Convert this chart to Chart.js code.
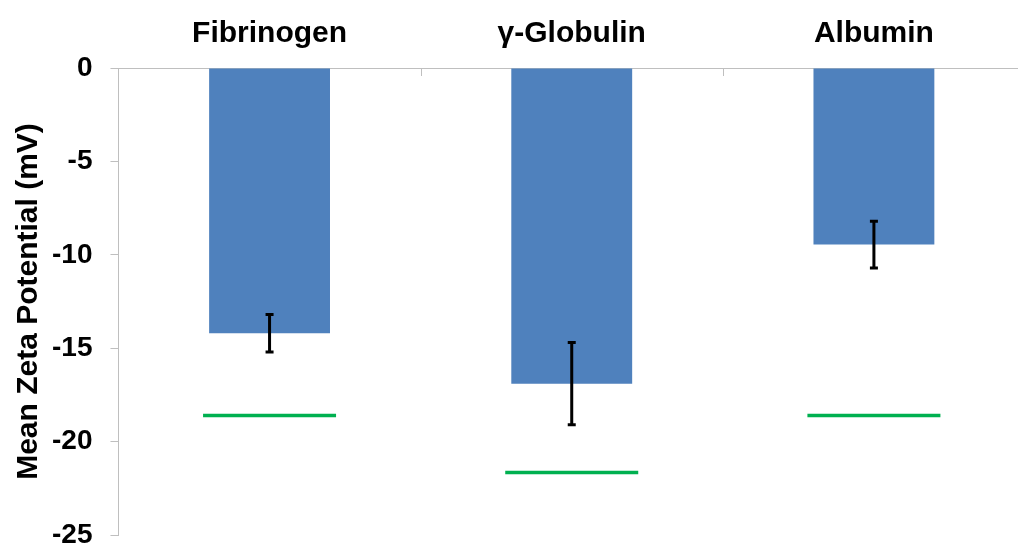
<!DOCTYPE html>
<html>
<head>
<meta charset="utf-8">
<title>Mean Zeta Potential</title>
<script src="https://cdn.jsdelivr.net/npm/chart.js@4/dist/chart.umd.min.js"></script>
<style>
  html, body { margin: 0; padding: 0; background: #ffffff; overflow: hidden; }
  #wrap { width: 1025px; height: 567px; }
</style>
</head>
<body>
<div id="wrap"><canvas id="chart" width="1025" height="567"></canvas></div>
<script>
// Protein categories and measured zeta potentials (mV)
const categories = ['Fibrinogen', 'γ-Globulin', 'Albumin'];
const meanZeta = [-14.2, -16.9, -9.45];
const zetaError = [1.0, 2.2, 1.25];
const referenceZeta = [-18.6, -21.65, -18.6];
const yTicks = [0, -5, -10, -15, -20, -25];

const FONT = '"Liberation Sans", Arial, sans-serif';
const AXIS_GREY = '#bfbfbf';

// Error bars drawn on top of each bar, from the y scale
const errorBars = {
  id: 'errorBars',
  afterDatasetsDraw(chart) {
    const meta = chart.getDatasetMeta(0);
    const y = chart.scales.y;
    const ctx = chart.ctx;
    ctx.save();
    ctx.strokeStyle = '#000000';
    ctx.lineWidth = 3;
    meta.data.forEach((bar, i) => {
      const top = y.getPixelForValue(meanZeta[i] + zetaError[i]);
      const bot = y.getPixelForValue(meanZeta[i] - zetaError[i]);
      const x = bar.x;
      ctx.beginPath();
      ctx.moveTo(x, top); ctx.lineTo(x, bot);
      ctx.moveTo(x - 4, top); ctx.lineTo(x + 4, top);
      ctx.moveTo(x - 4, bot); ctx.lineTo(x + 4, bot);
      ctx.stroke();
    });
    ctx.restore();
  }
};

// Short inward tick marks between categories on the top axis
const innerCategoryTicks = {
  id: 'innerCategoryTicks',
  afterDraw(chart) {
    const x = chart.scales.x;
    const top = chart.chartArea.top;
    const ctx = chart.ctx;
    const half = (x.getPixelForValue(1) - x.getPixelForValue(0)) / 2;
    ctx.save();
    ctx.strokeStyle = AXIS_GREY;
    ctx.lineWidth = 1;
    for (let i = 0; i < categories.length; i++) {
      const px = Math.round(x.getPixelForValue(i) + half) + 0.5;
      ctx.beginPath();
      ctx.moveTo(px, top);
      ctx.lineTo(px, top + 8);
      ctx.stroke();
    }
    ctx.restore();
  }
};

new Chart(document.getElementById('chart'), {
  type: 'bar',
  data: {
    labels: categories,
    datasets: [
      {
        type: 'bar',
        data: meanZeta,
        backgroundColor: '#4f81bd',
        borderWidth: 0,
        barPercentage: 0.4,
        categoryPercentage: 1.0,
        order: 2
      },
      {
        type: 'line',
        data: referenceZeta,
        showLine: false,
        pointStyle: 'line',
        pointRadius: 66.5,
        pointHoverRadius: 66.5,
        pointBorderWidth: 3.5,
        pointBorderColor: '#00b050',
        pointBackgroundColor: '#00b050',
        borderColor: '#00b050',
        order: 1
      }
    ]
  },
  options: {
    responsive: false,
    animation: false,
    events: [],
    layout: { autoPadding: false, padding: { top: 0, left: 11, right: 0, bottom: 0 } },
    plugins: {
      legend: { display: false },
      tooltip: { enabled: false }
    },
    scales: {
      x: {
        position: 'top',
        grid: { display: true, drawOnChartArea: false, drawTicks: false },
        border: { display: true, color: AXIS_GREY, width: 1 },
        ticks: {
          padding: 16,
          color: '#000000',
          font: { family: FONT, size: 30, weight: 'bold', lineHeight: 1.2 }
        }
      },
      y: {
        min: -25,
        max: 0,
        afterBuildTicks(scale) {
          scale.ticks = yTicks.map(v => ({ value: v }));
        },
        grid: { display: true, drawOnChartArea: false, drawTicks: true, tickLength: 8, color: AXIS_GREY },
        border: { display: true, color: AXIS_GREY, width: 1 },
        ticks: {
          padding: 18,
          color: '#000000',
          font: { family: FONT, size: 28, weight: 'bold', lineHeight: 1.0 }
        },
        title: {
          display: true,
          text: 'Mean Zeta Potential (mV)',
          color: '#000000',
          padding: { top: 0, bottom: -13 },
          font: { family: FONT, size: 30, weight: 'bold', lineHeight: 1.2 }
        }
      }
    }
  },
  plugins: [errorBars, innerCategoryTicks]
});
</script>
</body>
</html>
